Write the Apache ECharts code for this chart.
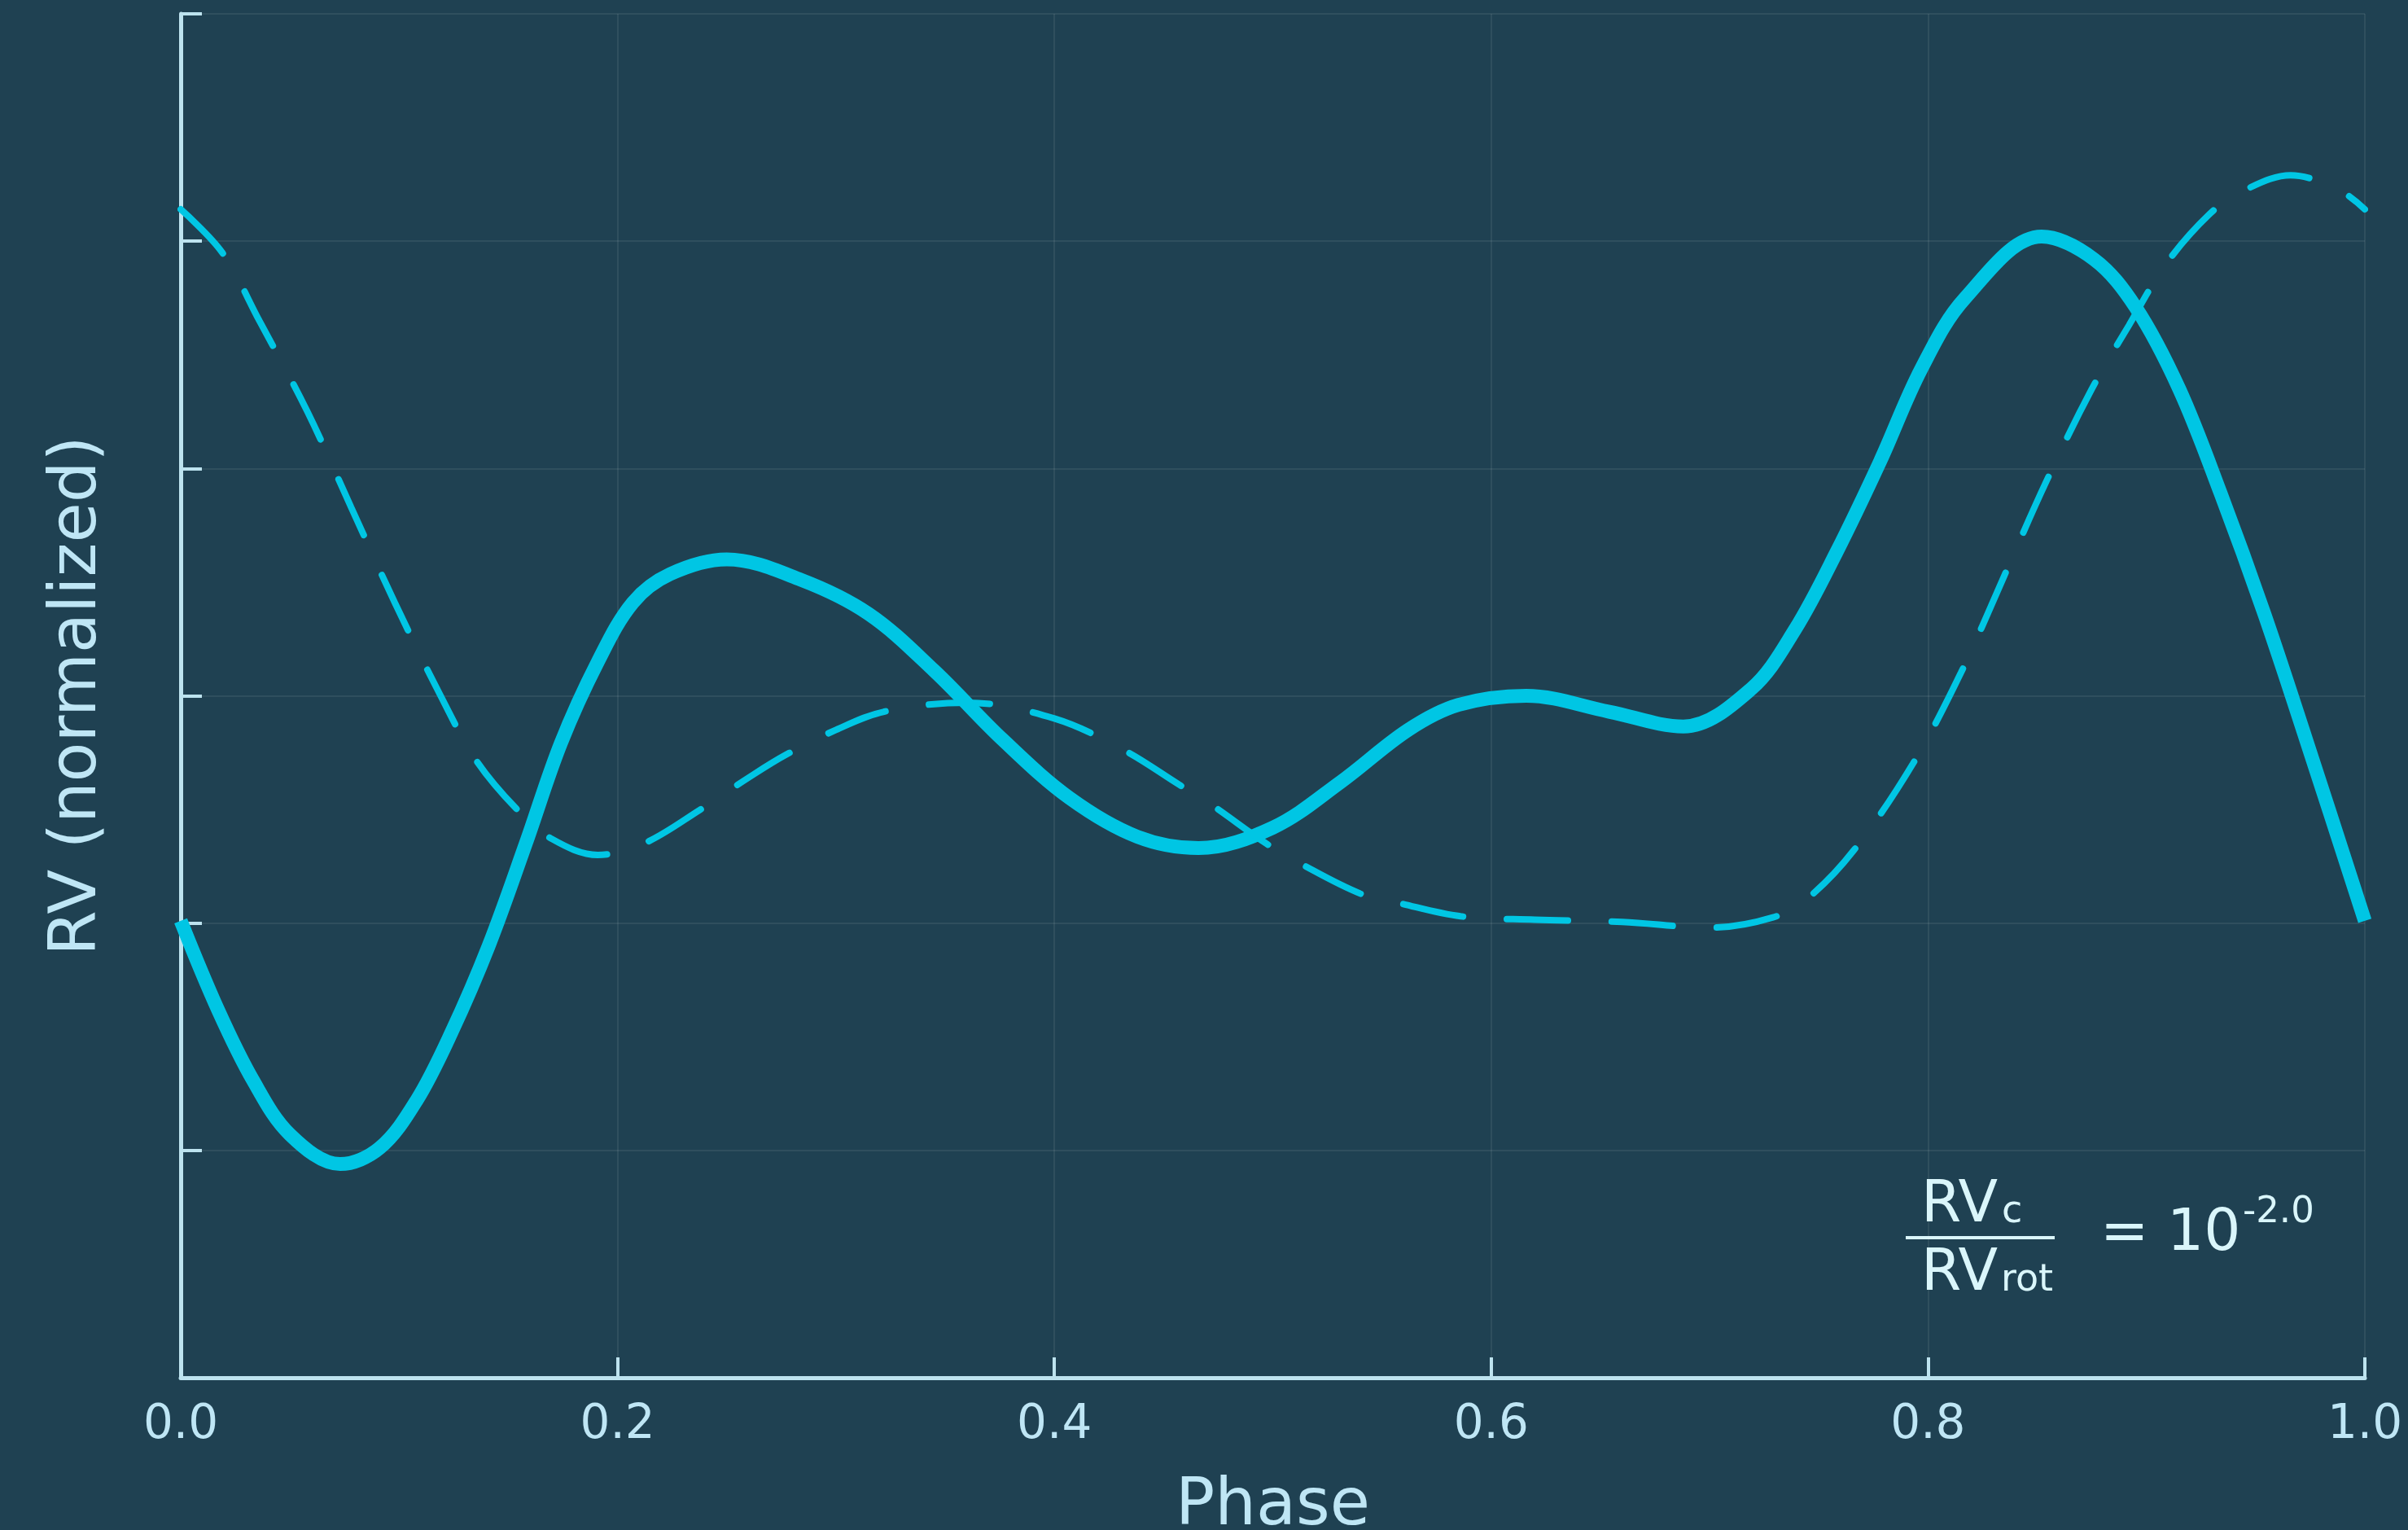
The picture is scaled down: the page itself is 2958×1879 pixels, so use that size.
<!DOCTYPE html>
<html>
<head>
<meta charset="utf-8">
<title>RV phase curves</title>
<script src="https://cdn.jsdelivr.net/npm/echarts@6/dist/echarts.min.js"></script>
<style>
  html, body { margin: 0; padding: 0; background: #1f4152; }
  #chart { width: 2958px; height: 1879px; }
</style>
</head>
<body>
<div id="chart"></div>
<script>
// Total RV (solid, thick): phase samples and values
const phaseTotal = [
  0.000, 0.017, 0.033, 0.050, 0.073, 0.091, 0.108, 0.124, 0.141, 0.158,
  0.174, 0.191, 0.207, 0.224, 0.250, 0.284, 0.315, 0.345, 0.376, 0.407,
  0.438, 0.466, 0.500, 0.531, 0.562, 0.585, 0.616, 0.654, 0.688, 0.719,
  0.739, 0.758, 0.778, 0.797, 0.817, 0.852, 0.876, 0.895, 0.915, 0.934,
  0.954, 0.973, 1.000
];
const rvTotal = [
  -0.99, -1.38, -1.69, -1.93, -2.06, -1.99, -1.78, -1.48, -1.10, -0.65,
  -0.21,  0.15,  0.41,  0.535, 0.60,  0.51,  0.36,  0.11, -0.19, -0.45,
  -0.62, -0.67, -0.58, -0.38, -0.15, -0.04,  0.00, -0.07, -0.135, 0.03,
   0.29,  0.63,  1.03,  1.44,  1.75,  2.02,  1.92,  1.71,  1.35,  0.89,
   0.36, -0.19, -0.99
];

// Rotational RV (dashed, thin): phase samples and values
const phaseRot = [
  0.000, 0.019, 0.036, 0.058, 0.078, 0.098, 0.119, 0.135, 0.154, 0.170,
  0.191, 0.212, 0.238, 0.260, 0.277, 0.300, 0.322, 0.360, 0.400, 0.432,
  0.457, 0.472, 0.497, 0.513, 0.540, 0.557, 0.586, 0.620, 0.660, 0.700,
  0.729, 0.745, 0.766, 0.793, 0.815, 0.835, 0.854, 0.875, 0.892, 0.909,
  0.929, 0.944, 0.966, 0.989, 1.000
];
const rvRot = [
   2.14,  1.95,  1.65,  1.25,  0.83,  0.41,  0.00, -0.28, -0.50, -0.63,
  -0.70, -0.65, -0.50, -0.36, -0.26, -0.15, -0.07, -0.03, -0.10, -0.24,
  -0.39, -0.48, -0.65, -0.74, -0.87, -0.91, -0.97, -0.985, -0.995, -1.02,
  -0.975, -0.89, -0.68, -0.30,  0.10,  0.53,  0.94,  1.35,  1.63,  1.90,
   2.12,  2.22,  2.29,  2.22,  2.14
];

// Axis ticks
const xTicks = [0.0, 0.2, 0.4, 0.6, 0.8, 1.0];
const yRange = { min: -3, max: 3, step: 1 };

const FONT = 'DejaVu Sans';
const BG = '#1f4152';
const AXIS = '#bde3ef';
const LABEL = '#bfe6f5';
const GRID = 'rgba(255,255,255,0.075)';
const CURVE = '#00c6e4';
const NOTE = '#daf6fb';
const SMOOTH = 0.35;

const chart = echarts.init(document.getElementById('chart'), null, { renderer: 'canvas' });

const pairs = (xs, ys) => xs.map((x, i) => [x, ys[i]]);

chart.setOption({
  backgroundColor: BG,
  animation: false,
  grid: {
    left: 222, right: 53, top: 17, bottom: 187,
    containLabel: false,
    outerBoundsMode: 'none'
  },
  xAxis: {
    type: 'value',
    min: xTicks[0],
    max: xTicks[xTicks.length - 1],
    interval: 0.2,
    name: 'Phase',
    nameLocation: 'middle',
    nameGap: 119,
    nameTextStyle: { fontFamily: FONT, fontSize: 80, color: LABEL },
    axisLine: { show: true, onZero: false, lineStyle: { color: AXIS, width: 5 } },
    axisTick: { show: true, inside: true, length: 25, lineStyle: { color: AXIS, width: 4 } },
    axisLabel: {
      show: true, margin: 30, fontFamily: FONT, fontSize: 58, color: LABEL,
      formatter: (v) => v.toFixed(1)
    },
    splitLine: { show: true, lineStyle: { color: GRID, width: 2 } }
  },
  yAxis: {
    type: 'value',
    min: yRange.min,
    max: yRange.max,
    interval: yRange.step,
    name: 'RV (normalized)',
    nameLocation: 'middle',
    nameGap: 86,
    nameTextStyle: { fontFamily: FONT, fontSize: 80, color: LABEL },
    axisLine: { show: true, onZero: false, lineStyle: { color: AXIS, width: 5 } },
    axisTick: { show: true, inside: true, length: 26, lineStyle: { color: AXIS, width: 4 } },
    axisLabel: { show: false },
    splitLine: { show: true, lineStyle: { color: GRID, width: 2 } }
  },
  series: [
    {
      name: 'RV',
      type: 'line',
      data: pairs(phaseTotal, rvTotal),
      smooth: SMOOTH,
      showSymbol: false,
      clip: true,
      lineStyle: { color: CURVE, width: 17 }
    },
    {
      name: 'RV rot',
      type: 'line',
      data: pairs(phaseRot, rvRot),
      smooth: SMOOTH,
      showSymbol: false,
      clip: true,
      lineStyle: { color: CURVE, width: 8, type: [75, 54], cap: 'round' }
    }
  ],
  graphic: [
    { type: 'text', x: 2360, y: 1482, silent: true,
      style: { text: 'RV', font: `71px "${FONT}"`, fill: NOTE, textAlign: 'left', textVerticalAlign: 'middle' } },
    { type: 'text', x: 2459, y: 1489, silent: true,
      style: { text: 'c', font: `46px "${FONT}"`, fill: NOTE, textAlign: 'left', textVerticalAlign: 'middle' } },
    { type: 'line', silent: true,
      shape: { x1: 2341, y1: 1520, x2: 2524, y2: 1520 },
      style: { stroke: NOTE, lineWidth: 4 } },
    { type: 'text', x: 2360, y: 1566, silent: true,
      style: { text: 'RV', font: `71px "${FONT}"`, fill: NOTE, textAlign: 'left', textVerticalAlign: 'middle' } },
    { type: 'text', x: 2458, y: 1573, silent: true,
      style: { text: 'rot', font: `46px "${FONT}"`, fill: NOTE, textAlign: 'left', textVerticalAlign: 'middle' } },
    { type: 'text', x: 2580, y: 1517, silent: true,
      style: { text: '= 10', font: `71px "${FONT}"`, fill: NOTE, textAlign: 'left', textVerticalAlign: 'middle' } },
    { type: 'text', x: 2755, y: 1489, silent: true,
      style: { text: '-2.0', font: `45px "${FONT}"`, fill: NOTE, textAlign: 'left', textVerticalAlign: 'middle' } }
  ]
});
</script>
</body>
</html>
